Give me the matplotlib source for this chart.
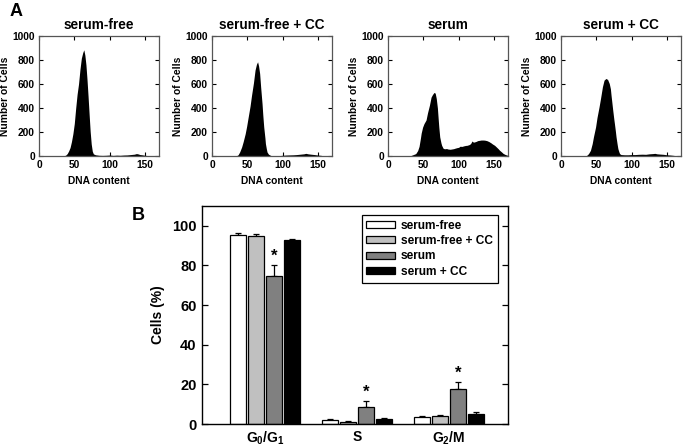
import matplotlib
matplotlib.use("Agg")
import matplotlib.pyplot as plt
import numpy as np

plt.rcParams['font.family'] = ['Liberation Sans', 'DejaVu Sans']
plt.rcParams['font.weight'] = 'bold'
plt.rcParams['mathtext.fontset'] = 'custom'
plt.rcParams['mathtext.rm'] = 'Liberation Sans:bold'
plt.rcParams['mathtext.bf'] = 'Liberation Sans:bold'
plt.rcParams['mathtext.it'] = 'Liberation Sans:bold'
plt.rcParams['mathtext.default'] = 'bf'

# --- panel A: DNA content histograms ---
hist_titles = ["serum-free", "serum-free + CC", "serum", "serum + CC"]

sf_dna = [35, 38, 40, 42, 44, 46, 48, 50, 52, 54, 56, 58, 60, 62, 63.5, 65, 66.5, 68, 69.5, 71,
          72.5, 74, 75.5, 77, 80, 85, 90, 95, 100, 105, 110, 115, 120, 125, 130, 135, 138, 140,
          143, 146, 150, 155, 160]
sf_cells = [0, 8, 20, 42, 70, 120, 185, 270, 400, 515, 600, 720, 815, 862, 885, 840, 760, 640, 500, 350,
            205, 100, 40, 18, 10, 6, 5, 6, 8, 5, 7, 6, 8, 9, 12, 15, 20, 18,
            12, 10, 6, 3, 0]

sfcc_dna = [34, 37, 39.3, 42, 44.2, 47, 49, 51, 53.9, 56, 58.7, 61, 63, 64.6, 66, 67.5, 69, 70.9, 72,
            73.3, 75, 75.7, 77, 78, 80, 82, 85, 95, 98, 100, 105, 110, 115, 120, 125, 130, 133,
            136, 140, 145, 150, 155, 158]
sfcc_cells = [0, 10, 35, 75, 120, 185, 245, 315, 415, 505, 608, 716, 765, 785, 750, 688, 570, 437, 340,
              242, 150, 103, 60, 33, 15, 8, 0, 0, 5, 6, 8, 9, 10, 12, 15, 18, 22,
              18, 15, 12, 8, 5, 0]

s_dna = [30, 33, 36, 39.3, 42, 44, 46, 47, 49, 51, 53.9, 56, 58.7, 61, 63, 65, 66, 67, 68.4, 70,
         70.9, 72, 73.3, 75, 76, 78, 80, 83, 85, 88, 90, 93, 95, 98, 100, 102, 105, 107, 110,
         112, 115, 117, 119, 121, 123, 125, 127, 130, 132, 135, 137, 140, 143, 146, 148, 151,
         153, 156, 158, 161, 163, 165.5, 168, 170]
s_cells = [0, 5, 12, 20, 45, 80, 150, 190, 240, 270, 300, 360, 423, 490, 512, 528, 529, 520, 479, 400,
           326, 240, 159, 110, 89, 65, 60, 62, 58, 56, 58, 61, 65, 70, 72, 81, 80, 84, 88,
           89, 95, 103, 125, 115, 118, 122, 128, 131, 133, 133, 132, 128, 120, 109, 100, 89,
           78, 61, 48, 33, 22, 14, 8, 5]

scc_dna = [35, 37, 39, 41.7, 44.2, 46, 49, 51, 53.9, 56, 58.7, 61, 63.6, 66, 68.4, 70, 70.9, 72,
           73.3, 75, 75.7, 77, 78, 79.5, 80.6, 82, 83, 85, 90, 95, 100, 105, 110, 115, 120, 125,
           130, 133, 136, 140, 145, 150, 155, 160, 163]
scc_cells = [0, 8, 20, 47, 103, 160, 242, 320, 409, 480, 577, 632, 646, 638, 604, 560, 507, 450,
             382, 300, 270, 210, 159, 100, 61, 35, 20, 12, 10, 10, 12, 12, 14, 15, 14, 18,
             20, 22, 18, 16, 14, 10, 8, 5, 0]

hist_dna = [sf_dna, sfcc_dna, s_dna, scc_dna]
hist_cells = [sf_cells, sfcc_cells, s_cells, scc_cells]

# --- panel B: cell cycle phases ---
phases = [r'$\mathbf{G_0/G_1}$', 'S', r'$\mathbf{G_2/M}$']
groups = ["serum-free", "serum-free + CC", "serum", "serum + CC"]
pct_serum_free = [95.2, 1.8, 3.5]
pct_serum_free_cc = [95.1, 1.2, 4.0]
pct_serum = [74.8, 8.8, 17.5]
pct_serum_cc = [93.0, 2.4, 5.0]
err_serum_free = [1.2, 0.5, 0.5]
err_serum_free_cc = [0.6, 0.3, 0.5]
err_serum = [5.5, 2.6, 3.5]
err_serum_cc = [0.5, 0.5, 1.0]
star_height = [84.5, 15.8, 25.6]

fig = plt.figure(figsize=(6.83, 4.48), dpi=100)

lefts = [39, 212, 388, 561]
for i, left in enumerate(lefts):
    ax = fig.add_axes([left / 683, 1 - 156 / 448, 120 / 683, 120 / 448])
    ax.fill_between(hist_dna[i], hist_cells[i], color='black', lw=0)
    ax.set_xlim(0, 170)
    ax.set_ylim(0, 1000)
    ax.set_xticks([0, 50, 100, 150])
    ax.set_yticks([0, 200, 400, 600, 800, 1000])
    ax.tick_params(direction='in', top=True, right=True, length=3, width=0.8,
                   labelsize=7.4, pad=3)
    for lab in ax.get_xticklabels() + ax.get_yticklabels():
        lab.set_fontweight('bold')
    for sp in ax.spines.values():
        sp.set_color('#555555')
        sp.set_linewidth(0.9)
    ax.set_title(hist_titles[i], fontsize=9.8, fontweight='bold', pad=5)
    ax.set_xlabel("DNA content", fontsize=7.4, fontweight='bold', labelpad=4)
    ax.set_ylabel("Number of Cells", fontsize=7.4, fontweight='bold', labelpad=2)

fig.text(10 / 683, 1 - 12 / 448, "A", fontsize=13, fontweight='bold', va='center', ha='left')

# bar chart
axb = fig.add_axes([202 / 683, 1 - 424 / 448, 306 / 683, 218 / 448])
x = np.arange(len(phases))
step = 0.195
width = 0.175
vals = [pct_serum_free, pct_serum_free_cc, pct_serum, pct_serum_cc]
errs = [err_serum_free, err_serum_free_cc, err_serum, err_serum_cc]
colors = ['white', '#c0c0c0', '#808080', 'black']
for j in range(4):
    pos = x + (j - 1.5) * step
    axb.bar(pos, vals[j], width, color=colors[j], edgecolor='black', linewidth=0.9,
            label=groups[j], zorder=2)
    axb.errorbar(pos, vals[j], yerr=[np.zeros(3), errs[j]], fmt='none', ecolor='black',
                 elinewidth=0.9, capsize=2.5, capthick=0.9, zorder=1)

for k in range(3):
    axb.text(x[k] + 0.5 * step, star_height[k], "*", ha='center', va='center',
             fontsize=12, fontweight='bold')

axb.set_xlim(-0.685, 2.64)
axb.set_ylim(0, 110)
axb.set_yticks([0, 20, 40, 60, 80, 100])
axb.set_xticks(x)
axb.set_xticklabels(phases)
axb.tick_params(axis='y', direction='in', right=True, length=4, width=0.9, labelsize=10.5, pad=4)
axb.tick_params(axis='x', length=0, labelsize=10, pad=4)
for lab in axb.get_xticklabels() + axb.get_yticklabels():
    lab.set_fontweight('bold')
for sp in axb.spines.values():
    sp.set_linewidth(1.0)
axb.set_ylabel("Cells (%)", fontsize=10, fontweight='bold', labelpad=5)

leg = axb.legend(loc='upper right', bbox_to_anchor=(0.967, 0.959), borderaxespad=0,
                 fontsize=8.6, frameon=True, fancybox=False, edgecolor='black', framealpha=1,
                 handlelength=2.4, handleheight=0.55, labelspacing=0.28,
                 borderpad=0.4, handletextpad=0.5)
leg.get_frame().set_linewidth(0.9)
for t in leg.get_texts():
    t.set_fontweight('bold')

fig.text(138 / 683, 1 - 215 / 448, "B", fontsize=13, fontweight='bold', va='center', ha='center')

fig.savefig("out.png", dpi=100)
